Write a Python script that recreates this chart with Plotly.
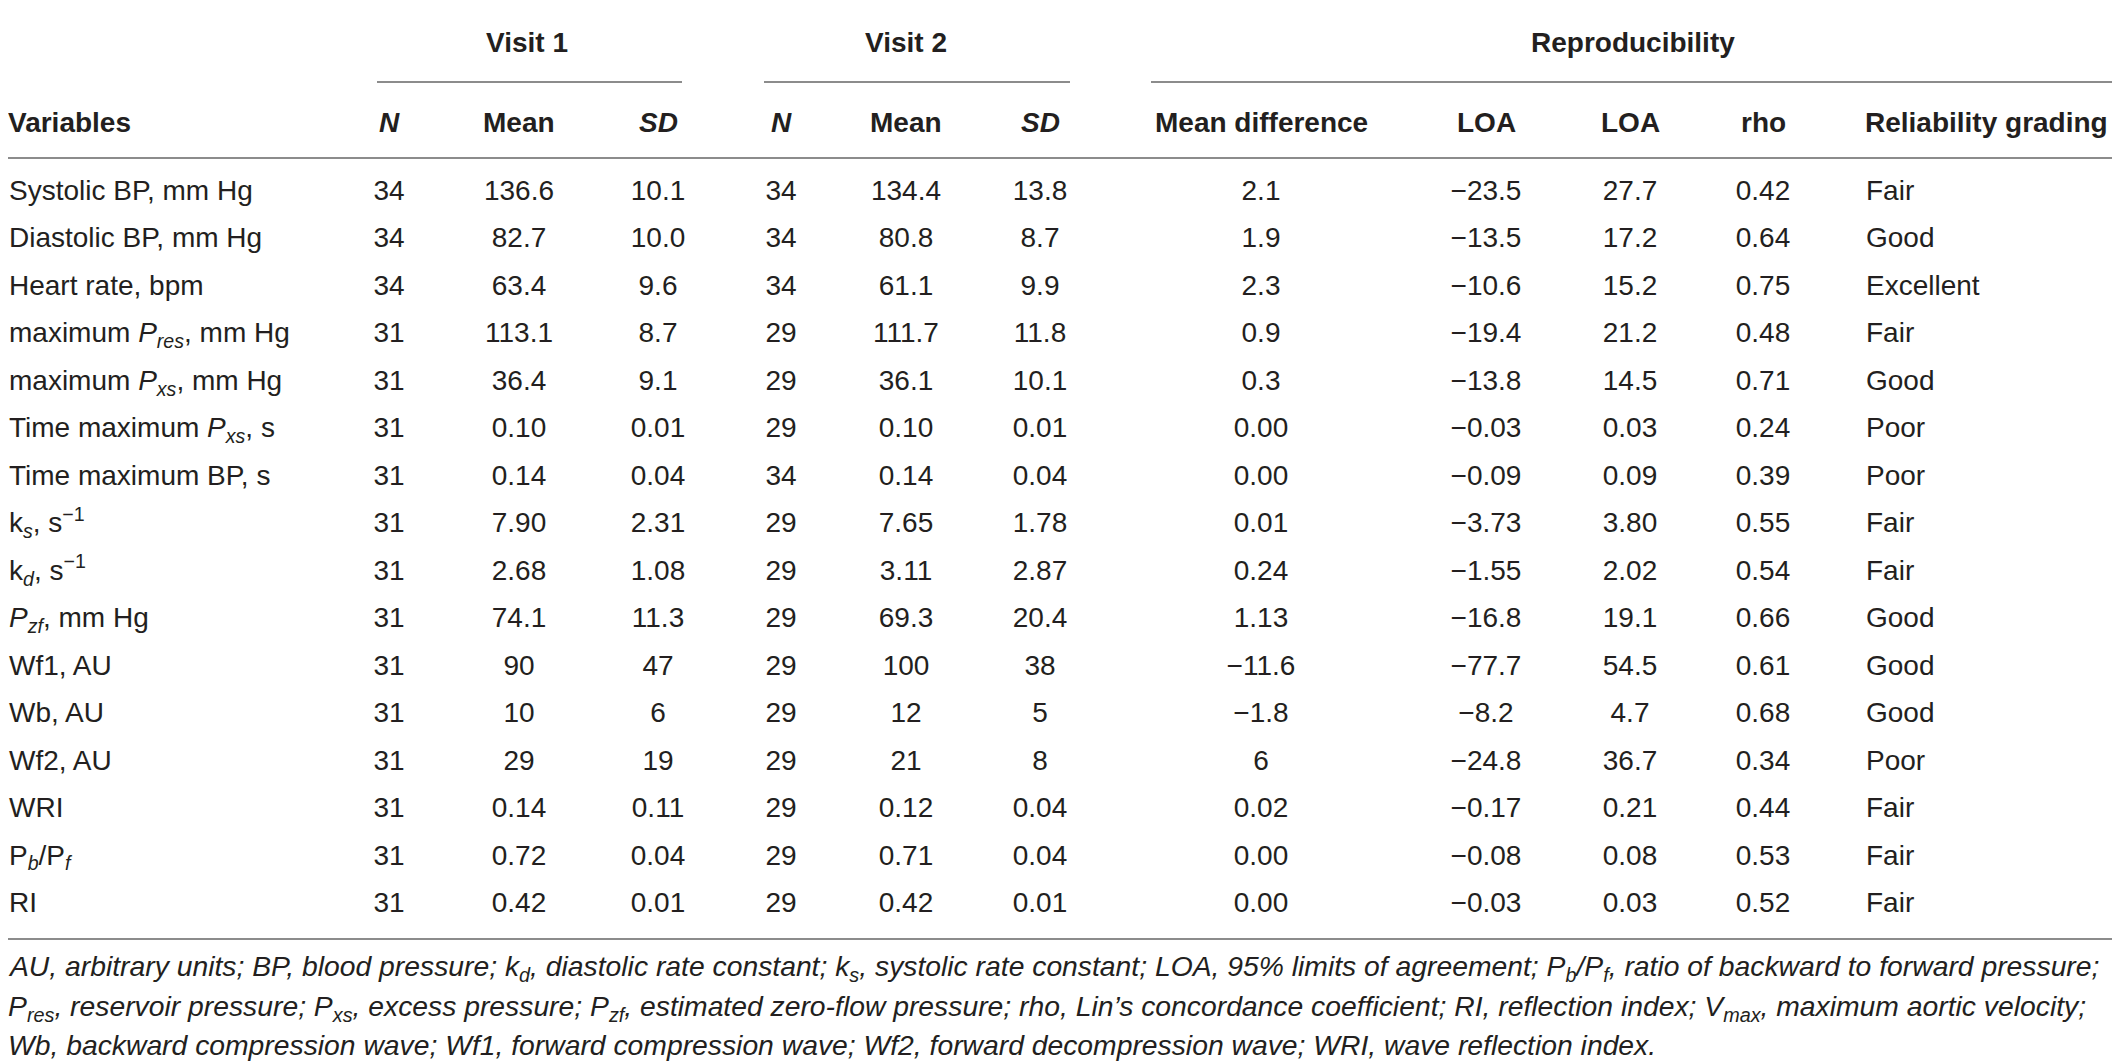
import plotly.graph_objects as go

# ---------------- data ----------------
variables = [
    "Systolic BP, mm Hg", "Diastolic BP, mm Hg", "Heart rate, bpm",
    "maximum <i>P<sub>res</sub></i>, mm Hg", "maximum <i>P<sub>xs</sub></i>, mm Hg",
    "Time maximum <i>P<sub>xs</sub></i>, s", "Time maximum BP, s",
    "k<sub><i>s</i></sub>, s<sup>−1</sup>", "k<sub><i>d</i></sub>, s<sup>−1</sup>",
    "<i>P<sub>zf</sub></i>, mm Hg", "Wf1, AU", "Wb, AU", "Wf2, AU", "WRI",
    "P<sub><i>b</i></sub>/P<sub><i>f</i></sub>", "RI",
]
n_visit1 = ["34", "34", "34", "31", "31", "31", "31", "31", "31", "31", "31", "31", "31", "31", "31", "31"]
mean_visit1 = ["136.6", "82.7", "63.4", "113.1", "36.4", "0.10", "0.14", "7.90", "2.68", "74.1",
               "90", "10", "29", "0.14", "0.72", "0.42"]
sd_visit1 = ["10.1", "10.0", "9.6", "8.7", "9.1", "0.01", "0.04", "2.31", "1.08", "11.3",
             "47", "6", "19", "0.11", "0.04", "0.01"]
n_visit2 = ["34", "34", "34", "29", "29", "29", "34", "29", "29", "29", "29", "29", "29", "29", "29", "29"]
mean_visit2 = ["134.4", "80.8", "61.1", "111.7", "36.1", "0.10", "0.14", "7.65", "3.11", "69.3",
               "100", "12", "21", "0.12", "0.71", "0.42"]
sd_visit2 = ["13.8", "8.7", "9.9", "11.8", "10.1", "0.01", "0.04", "1.78", "2.87", "20.4",
             "38", "5", "8", "0.04", "0.04", "0.01"]
mean_difference = ["2.1", "1.9", "2.3", "0.9", "0.3", "0.00", "0.00", "0.01", "0.24", "1.13",
                   "−11.6", "−1.8", "6", "0.02", "0.00", "0.00"]
loa_lower = ["−23.5", "−13.5", "−10.6", "−19.4", "−13.8", "−0.03", "−0.09", "−3.73", "−1.55", "−16.8",
             "−77.7", "−8.2", "−24.8", "−0.17", "−0.08", "−0.03"]
loa_upper = ["27.7", "17.2", "15.2", "21.2", "14.5", "0.03", "0.09", "3.80", "2.02", "19.1",
             "54.5", "4.7", "36.7", "0.21", "0.08", "0.03"]
rho = ["0.42", "0.64", "0.75", "0.48", "0.71", "0.24", "0.39", "0.55", "0.54", "0.66",
       "0.61", "0.68", "0.34", "0.44", "0.53", "0.52"]
reliability = ["Fair", "Good", "Excellent", "Fair", "Good", "Poor", "Poor", "Fair", "Fair", "Good",
               "Good", "Good", "Poor", "Fair", "Fair", "Fair"]

group_headers = ["Visit 1", "Visit 2", "Reproducibility"]
column_headers = ["Variables", "<i>N</i>", "Mean", "<i>SD</i>", "<i>N</i>", "Mean", "<i>SD</i>",
                  "Mean difference", "LOA", "LOA", "rho", "Reliability grading"]
footnotes = [
    "AU, arbitrary units; BP, blood pressure; k<sub><i>d</i></sub>, diastolic rate constant; "
    "k<sub><i>s</i></sub>, systolic rate constant; LOA, 95% limits of agreement; "
    "P<sub><i>b</i></sub>/P<sub><i>f</i></sub>, ratio of backward to forward pressure;",
    "P<sub><i>res</i></sub>, reservoir pressure; P<sub><i>xs</i></sub>, excess pressure; "
    "P<sub><i>zf</i></sub>, estimated zero-flow pressure; rho, Lin’s concordance coefficient; "
    "RI, reflection index; V<sub><i>max</i></sub>, maximum aortic velocity;",
    "Wb, backward compression wave; Wf1, forward compression wave; "
    "Wf2, forward decompression wave; WRI, wave reflection index.",
]

# ---------------- layout constants ----------------
W, H = 2120, 1063
OFF = 8                              # default page body margin in the written html
ROW0, ROWH = 193.0, 47.47            # page-pixel centre of first row, row pitch
FONT = "Liberation Sans, Arial, Helvetica, sans-serif"
TXT = "#231f20"
LINE = "#8c8c8c"
FS = 28
FS_NOTE = 28.3


def py(p):
    """page pixel row -> row units on the y axis"""
    return (p - ROW0) / ROWH


LEFT_X = 9
col_x = [389, 519, 658, 781, 906, 1040, 1261, 1486, 1630, 1763]
GRADE_X = 1866
rows = list(range(len(variables)))

fig = go.Figure()

# variable labels (left aligned)
fig.add_trace(go.Scatter(x=[LEFT_X] * len(rows), y=rows, text=variables, mode="text",
                         textposition="middle right", hoverinfo="skip", showlegend=False,
                         cliponaxis=False, textfont=dict(family=FONT, size=FS, color=TXT)))

columns = [n_visit1, mean_visit1, sd_visit1, n_visit2, mean_visit2, sd_visit2,
           mean_difference, loa_lower, loa_upper, rho]
for cx, vals in zip(col_x, columns):
    fig.add_trace(go.Scatter(x=[cx] * len(vals), y=rows, text=vals, mode="text",
                             textposition="middle center", hoverinfo="skip", showlegend=False,
                             cliponaxis=False, textfont=dict(family=FONT, size=FS, color=TXT)))

fig.add_trace(go.Scatter(x=[GRADE_X] * len(rows), y=rows, text=reliability, mode="text",
                         textposition="middle right", hoverinfo="skip", showlegend=False,
                         cliponaxis=False, textfont=dict(family=FONT, size=FS, color=TXT)))

annotations = []
# group headers
group_x = [527, 906, 1633]
for gx, g in zip(group_x, group_headers):
    annotations.append(dict(x=gx, y=py(42), xref="x", yref="y", text="<b>" + g + "</b>",
                            showarrow=False, xanchor="center", yanchor="middle",
                            font=dict(family=FONT, size=FS, color=TXT)))
# column headers
hdr_x = [LEFT_X] + col_x + [GRADE_X]
for i, (hx, h) in enumerate(zip(hdr_x, column_headers)):
    left = i == 0 or i == len(column_headers) - 1
    annotations.append(dict(x=hx, y=py(122), xref="x", yref="y", text="<b>" + h + "</b>",
                            showarrow=False, xanchor="left" if left else "center",
                            yanchor="middle", xshift=-3 if left else 0,
                            font=dict(family=FONT, size=FS, color=TXT)))
# footnotes
for fy, ft in zip([968, 1008, 1045], footnotes):
    annotations.append(dict(x=LEFT_X, y=py(fy), xref="x", yref="y", text="<i>" + ft + "</i>",
                            showarrow=False, xanchor="left", yanchor="middle", xshift=-3,
                            font=dict(family=FONT, size=FS_NOTE, color=TXT)))

shapes = []
for (x0, x1, yp) in [(8, 2115, 6), (377, 682, 82), (764, 1070, 82), (1151, 2115, 82),
                     (8, 2115, 158), (8, 2115, 939)]:
    shapes.append(dict(type="line", xref="x", yref="y", x0=x0, x1=x1, y0=py(yp), y1=py(yp),
                       line=dict(color=LINE, width=2)))

fig.update_layout(
    width=W - OFF, height=H - OFF, margin=dict(l=0, r=0, t=0, b=0),
    paper_bgcolor="white", plot_bgcolor="white",
    xaxis=dict(range=[OFF, W], visible=False, fixedrange=True),
    yaxis=dict(range=[py(H), py(OFF)], visible=False, fixedrange=True),
    annotations=annotations, shapes=shapes,
)

fig.write_html("out.html")
